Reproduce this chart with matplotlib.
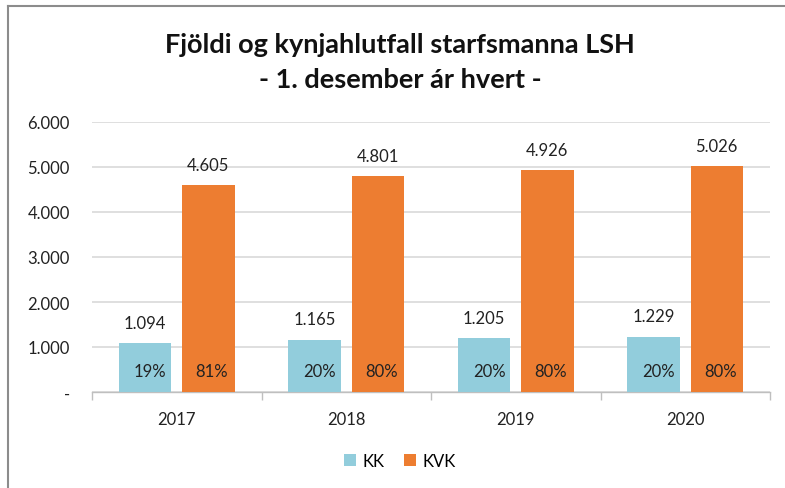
import matplotlib
matplotlib.use("Agg")
import matplotlib.pyplot as plt
import numpy as np
from matplotlib.lines import Line2D

years = ["2017", "2018", "2019", "2020"]
kk = [1094, 1165, 1205, 1229]
kvk = [4605, 4801, 4926, 5026]
kk_pct = ["19%", "20%", "20%", "20%"]
kvk_pct = ["81%", "80%", "80%", "80%"]
yticks = [0, 1000, 2000, 3000, 4000, 5000, 6000]
ytick_labels = ["-", "1.000", "2.000", "3.000", "4.000", "5.000", "6.000"]

def fmt(v):
    return f"{v:,}".replace(",", ".")

plt.rcParams['font.family'] = ['Lato', 'DejaVu Sans']

W, H = 785, 489
fig = plt.figure(figsize=(W/100, H/100), dpi=100)
ax = fig.add_axes([92/W, 1-393/H, (770-92)/W, (393-123)/H])

c_kk = "#92CDDC"
c_kvk = "#ED7D31"
x = np.arange(len(years))
bw = 0.31
off = 0.186
ax.bar(x - off, kk, bw, color=c_kk, zorder=3, label="KK")
ax.bar(x + off, kvk, bw, color=c_kvk, zorder=3, label="KVK")

fs = 12
for i in range(len(years)):
    ax.text(x[i] - off, kk[i] + 450, fmt(kk[i]), ha="center", va="center", fontsize=fs, color="#222222")
    ax.text(x[i] + off, kvk[i] + 450, fmt(kvk[i]), ha="center", va="center", fontsize=fs, color="#222222")
    ax.text(x[i] - off + 0.03, 470, kk_pct[i], ha="center", va="center", fontsize=fs, color="#222222", zorder=4)
    ax.text(x[i] + off + 0.02, 470, kvk_pct[i], ha="center", va="center", fontsize=fs, color="#222222", zorder=4)

ax.set_xlim(-0.5, len(years) - 0.5)
ax.set_ylim(0, 6000)
ax.set_yticks(yticks)
ax.set_yticklabels(ytick_labels, fontsize=fs, color="#222222")
ax.yaxis.grid(True, color="#D9D9D9", linewidth=1.2, zorder=0)
ax.set_axisbelow(True)
ax.tick_params(axis="y", length=0, pad=16)
ax.set_xticks(x)
ax.set_xticklabels(years, fontsize=fs, color="#222222")
ax.tick_params(axis="x", length=0, pad=14)
ax.set_xticks(np.arange(-0.5, len(years)), minor=True)
ax.tick_params(axis="x", which="minor", length=6, color="#BFBFBF", width=1)
for s in ["top", "right", "left"]:
    ax.spines[s].set_visible(False)
ax.spines["bottom"].set_color("#BFBFBF")
ax.spines["bottom"].set_linewidth(1)

fig.text(400/W, 1-45/H, "Fjöldi og kynjahlutfall starfsmanna LSH", ha="center", va="center",
         fontsize=19.5, fontweight="bold", color="#111111")
fig.text(400/W, 1-80/H, "- 1. desember ár hvert -", ha="center", va="center",
         fontsize=19.5, fontweight="bold", color="#111111")

fig.legend(loc="center", bbox_to_anchor=(400/W, 1-462/H), ncol=2, frameon=False,
           fontsize=fs, handlelength=0.7, handleheight=0.7, handletextpad=0.4, columnspacing=1.2)

# outer frame (cropped chart border)
fig.add_artist(Line2D([8/W, 8/W], [0, 1-7/H], transform=fig.transFigure, color="#8C8C8C", linewidth=1.5))
fig.add_artist(Line2D([8/W, 1], [1-7/H, 1-7/H], transform=fig.transFigure, color="#8C8C8C", linewidth=1.5))

fig.savefig("out.png", dpi=100)
